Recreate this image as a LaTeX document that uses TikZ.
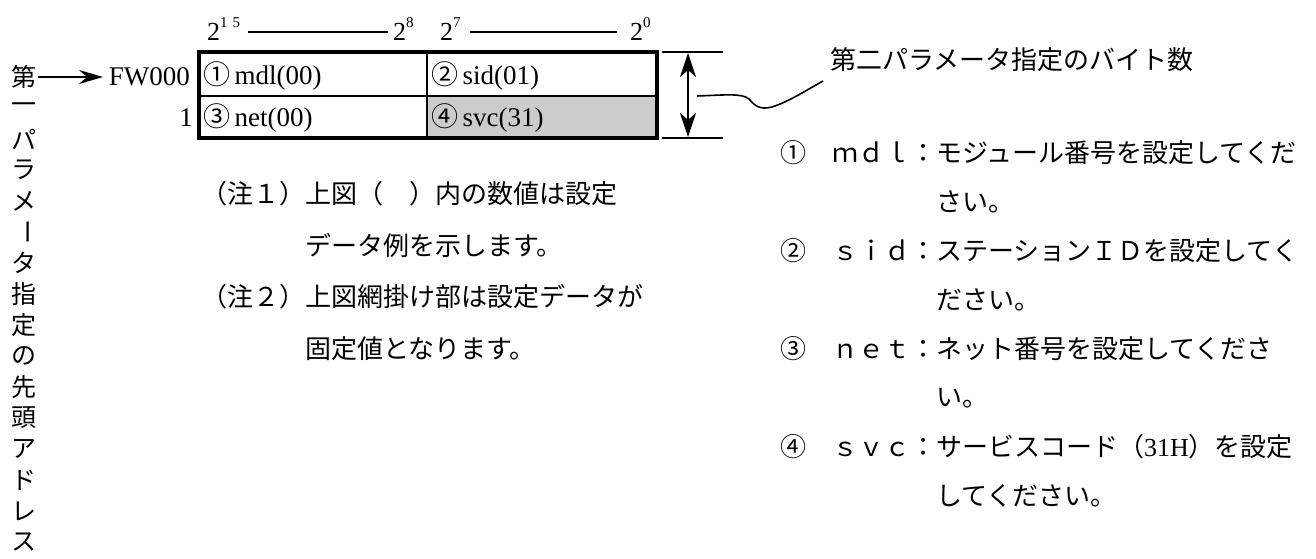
\documentclass[tikz,border=0pt]{standalone}
\usepackage{fontspec}
\setmainfont{Liberation Serif}
\newfontfamily\cjk{Noto Sans CJK JP}
\usetikzlibrary{arrows.meta}
\begin{document}
\begin{tikzpicture}[x=1pt,y=-1pt,
  jp/.style={font={\cjk\fontsize{26}{30}\selectfont}, inner sep=0pt},
  jpv/.style={font={\cjk\fontsize{25}{30}\selectfont}, inner sep=0pt},
  lat/.style={font={\fontsize{27}{30}\selectfont}, inner sep=0pt},
  bitnum/.style={font={\fontsize{26}{30}\selectfont}, inner sep=0pt},
  rule/.style={line width=2.8pt},
  mid/.style={line width=2.6pt},
  thin/.style={line width=2.2pt},
  tip/.style={-{Stealth[length=24pt,width=14pt,inset=8pt]}},
  dtip/.style={{Stealth[length=24pt,width=16pt,inset=7pt]}-{Stealth[length=24pt,width=16pt,inset=7pt]}}]
\useasboundingbox (0,0) rectangle (1316,558);
\fill[white] (0,0) rectangle (1316,558);
% bit numbers
\newcommand{\supr}[1]{\raisebox{0.5em}{\fontsize{15}{16}\selectfont #1}}
\node[bitnum,anchor=base west] (b15) at (207,40) {2\supr{1\,\,5}};
\node[bitnum,anchor=base west] (b8) at (393,40) {2\supr{8}};
\node[bitnum,anchor=base west] (b7) at (440,40) {2\supr{7}};
\node[bitnum,anchor=base west] (b0) at (630,40) {2\supr{0}};
\coordinate (r1a) at (248,32); \coordinate (r1b) at (388,32);
\coordinate (r2a) at (470,32); \coordinate (r2b) at (617,32);
\draw[rule] (r1a) -- (r1b);
\draw[rule] (r2a) -- (r2b);
% box
\coordinate (tl) at (199,52); \coordinate (br) at (657,138);
\fill[black!20] (427,96) rectangle (657,138);
\draw[mid] (199,96) -- (657,96);
\draw[mid] (427,52) -- (427,138);
\draw[line width=3.2pt] (tl) rectangle (br);
\node[lat,anchor=west] (c1) at (203,76) {{\cjk ①}\,mdl(00)};
\node[lat,anchor=west] (c2) at (431,76) {{\cjk ②}\,sid(01)};
\node[lat,anchor=west] (c3) at (203,118) {{\cjk ③}\,net(00)};
\node[lat,anchor=west] (c4) at (431,118) {{\cjk ④}\,svc(31)};
\node[lat,anchor=east] (fw) at (190,77) {FW000};
\node[lat,anchor=east] (one) at (193,118) {1};
% vertical text
\foreach \c [count=\i from 0] in {第,一,パ,ラ,メ,,タ,指,定,の,先,頭,ア,ド,レ,ス}{
  \node[jpv] (v\i) at (24,{77+\i*31}) {\c};
}
\node[jpv,rotate=-90] (vbar) at (24,{77+5*31}) {ー};
\coordinate (as) at (38,77);
\coordinate (ae) at (103,77);
\draw[thin,tip] (as) -- (ae);
% bracket at right
\coordinate (k1a) at (662,52); \coordinate (k1b) at (723,52);
\coordinate (k2a) at (662,138); \coordinate (k2b) at (723,138);
\draw[rule] (k1a) -- (k1b);
\draw[rule] (k2a) -- (k2b);
\coordinate (ua) at (688,53); \coordinate (ub) at (688,137);
\draw[thin,dtip] (ua) -- (ub);
% leader curve
\node[jp,anchor=west] (head) at (830,60) {第二パラメータ指定のバイト数};
\coordinate (cs) at (697,96);
\coordinate (ce) at (823,81);
\draw[line width=1.6pt] (cs) .. controls (725,95) and (742,93) .. (749,99)
  .. controls (755,106) and (760,110) .. (772,107)
  .. controls (790,101) and (805,91) .. (ce);
% notes
\node[jp,anchor=west] (n1) at (201,194) {（注１）上図（　）内の数値は設定};
\node[jp,anchor=west] (n1b) at (305,245) {データ例を示します。};
\node[jp,anchor=west] (n2) at (201,297) {（注２）上図網掛け部は設定データが};
\node[jp,anchor=west] (n2b) at (305,349) {固定値となります。};
% list
\node[jp,anchor=west] (l1) at (780,153) {①　ｍｄｌ：モジュール番号を設定してくだ};
\node[jp,anchor=west] (l1b) at (936,202) {さい。};
\node[jp,anchor=west] (l2) at (780,251) {②　ｓｉｄ：ステーションＩＤを設定してく};
\node[jp,anchor=west] (l2b) at (936,300) {ださい。};
\node[jp,anchor=west] (l3) at (780,349) {③　ｎｅｔ：ネット番号を設定してくださ};
\node[jp,anchor=west] (l3b) at (936,398) {い。};
\node[jp,anchor=west] (l4) at (780,447) {④　ｓｖｃ：サービスコード（{\rmfamily 31H}）を設定};
\node[jp,anchor=west] (l4b) at (936,496) {してください。};
\end{tikzpicture}
\end{document}
